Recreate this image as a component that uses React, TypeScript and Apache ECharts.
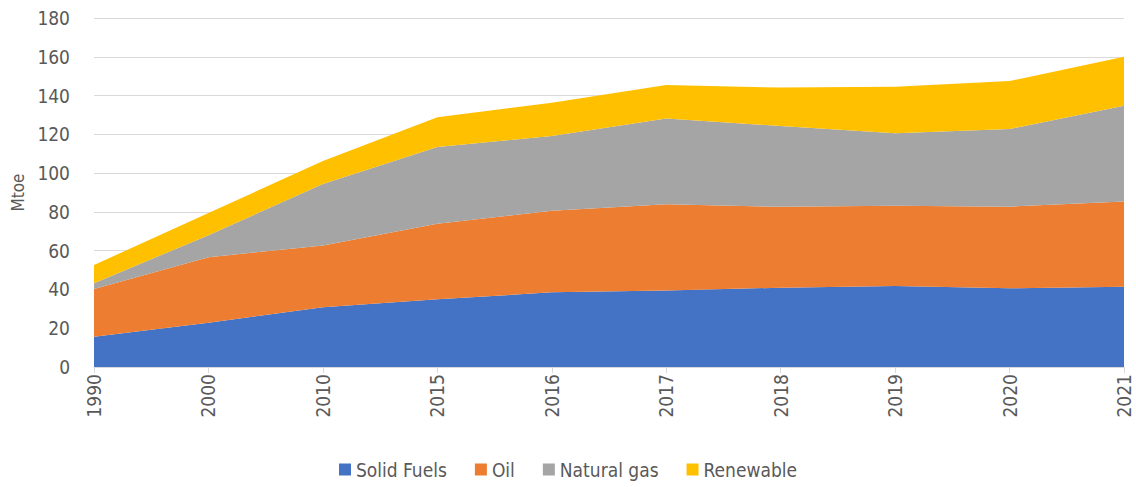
import React, { useEffect, useRef } from "react";
import * as echarts from "echarts";

const years = ["1990", "2000", "2010", "2015", "2016", "2017", "2018", "2019", "2020", "2021"];
const solidFuels = [15.6, 22.8, 30.8, 34.9, 38.5, 39.4, 40.9, 41.8, 40.6, 41.4];
const oil = [24.6, 33.8, 31.9, 39.0, 42.1, 44.5, 41.7, 41.4, 42.1, 44.0];
const naturalGas = [3.0, 11.4, 31.7, 39.6, 38.5, 44.3, 41.7, 37.3, 40.0, 49.4];
const renewable = [9.4, 11.4, 11.8, 15.3, 17.2, 17.2, 19.8, 24.1, 24.8, 25.2];

const FONT = "'DejaVu Sans Condensed', 'Liberation Sans Narrow', sans-serif";
const TEXT = "#595959";

export default function App() {
  const ref = useRef<HTMLDivElement>(null);
  useEffect(() => {
    document.body.style.margin = "0";
    if (!ref.current) return;
    const chart = echarts.init(ref.current, undefined, { renderer: "svg" });
    const mk = (name: string, data: number[], color: string) => ({
      name,
      type: "line",
      stack: "total",
      data,
      symbol: "none",
      lineStyle: { width: 0 },
      areaStyle: { color, opacity: 1 },
      itemStyle: { color },
    });
    chart.setOption({
      animation: false,
      textStyle: { fontFamily: FONT },
      grid: { left: 94, right: 12, top: 18, bottom: 120, containLabel: false },
      legend: {
        top: 455,
        left: "center",
        itemWidth: 12,
        itemHeight: 12,
        itemGap: 28,
        icon: "rect",
        textStyle: { color: TEXT, fontSize: 19, fontFamily: FONT },
        data: ["Solid Fuels", "Oil", "Natural gas", "Renewable"],
      },
      xAxis: {
        type: "category",
        data: years,
        boundaryGap: false,
        axisLine: { lineStyle: { color: "#d9d9d9", width: 1 } },
        axisTick: { show: true, length: 6, lineStyle: { color: "#d9d9d9" } },
        axisLabel: { rotate: 90, color: TEXT, fontSize: 19, margin: 7, fontFamily: FONT },
      },
      yAxis: {
        type: "value",
        min: 0,
        max: 180,
        interval: 20,
        name: "Mtoe",
        nameLocation: "middle",
        nameGap: 68,
        nameTextStyle: { color: TEXT, fontSize: 17, fontFamily: FONT },
        axisLine: { show: false },
        axisTick: { show: false },
        axisLabel: { color: TEXT, fontSize: 19, margin: 24, fontFamily: FONT },
        splitLine: { lineStyle: { color: "#d9d9d9", width: 1 } },
      },
      series: [
        mk("Solid Fuels", solidFuels, "#4472C4"),
        mk("Oil", oil, "#ED7D31"),
        mk("Natural gas", naturalGas, "#A5A5A5"),
        mk("Renewable", renewable, "#FFC000"),
      ],
    });
    return () => chart.dispose();
  }, []);
  return <div ref={ref} style={{ width: 1136, height: 487 }} />;
}
